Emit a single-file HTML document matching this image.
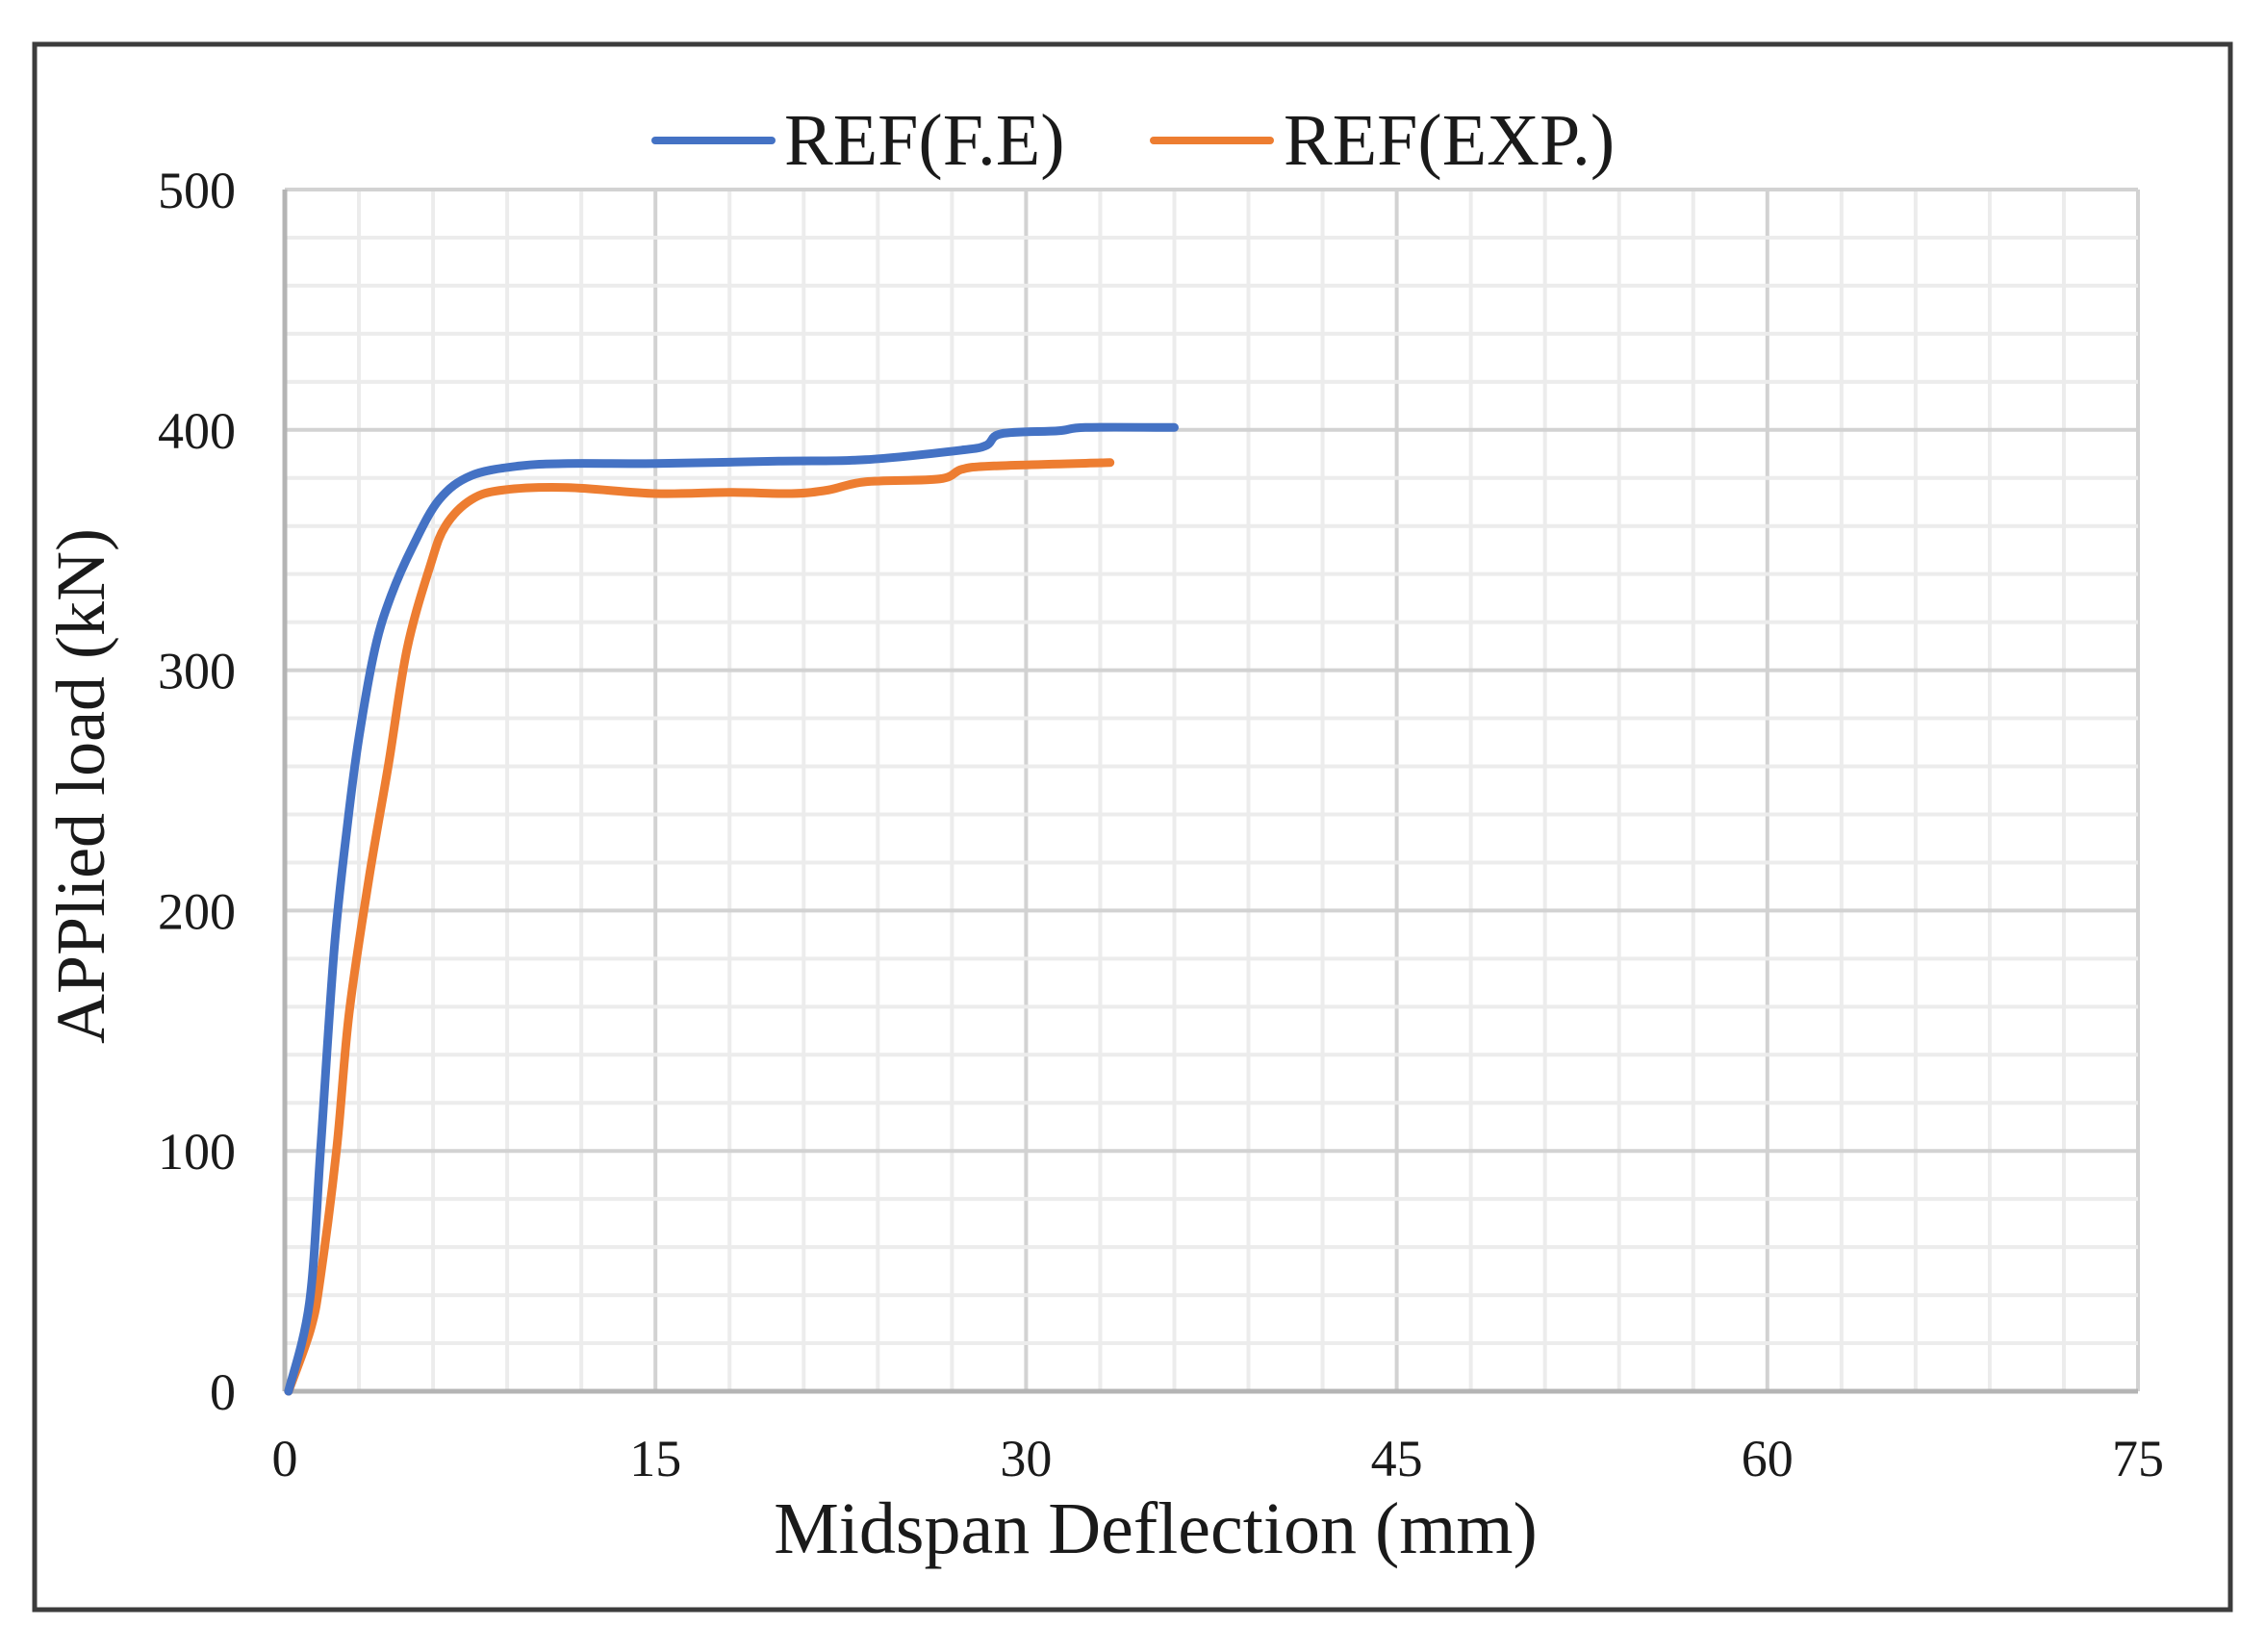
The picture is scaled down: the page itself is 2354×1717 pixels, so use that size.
<!DOCTYPE html>
<html><head><meta charset="utf-8"><style>
html,body{margin:0;padding:0;background:#fff;}
svg{display:block;font-family:"Liberation Serif",serif;}
</style></head><body>
<svg id="chart" width="2354" height="1717" viewBox="0 0 2354 1717" xmlns="http://www.w3.org/2000/svg">
<rect x="36" y="46" width="2282" height="1627" fill="#fff" stroke="#3c3c3c" stroke-width="5"/>
<g id="grid"></g>
<g id="axes"></g>
<g id="series"></g>
<g>
<line x1="681" y1="146" x2="802" y2="146" stroke="#4472C4" stroke-width="8" stroke-linecap="round"/>
<text x="815" y="171" font-size="76" fill="#1a1a1a">REF(F.E)</text>
<line x1="1199" y1="146" x2="1320" y2="146" stroke="#ED7D31" stroke-width="8" stroke-linecap="round"/>
<text x="1334" y="171" font-size="76" fill="#1a1a1a">REF(EXP.)</text>
</g>
<text x="1201" y="1614" font-size="76" text-anchor="middle" fill="#1a1a1a">Midspan Deflection (mm)</text>
<text transform="translate(108,817) rotate(-90)" font-size="72" text-anchor="middle" fill="#1a1a1a">APPlied load (kN)</text>
</svg>
<script>
const xTicks = [0, 15, 30, 45, 60, 75];
const yTicks = [0, 100, 200, 300, 400, 500];
const feX = [0.15, 1.0, 1.45, 2.0, 2.55, 3.0, 3.65, 4.3, 5.2, 6.25, 7.55, 9.5, 11.45, 15, 20, 23.5, 27.4, 28.4, 29.0, 31.3, 32.4, 36.0];
const feY = [0, 37, 101, 184, 237, 272, 309, 331, 352, 371, 381, 385, 386, 386, 387, 387.6, 391.6, 393.6, 398.4, 399.6, 401, 401];
const expX = [0.15, 1.05, 1.45, 2.1, 2.6, 3.4, 4.2, 4.95, 5.9, 6.5, 7.55, 8.85, 11.45, 15, 18, 20.5, 22, 23.5, 26.5, 27.4, 28.7, 33.4];
const expY = [0, 26, 48, 101, 157, 213, 261, 309, 344, 360, 371, 375, 376, 373.5, 374, 373.5, 375, 378.4, 379.6, 383.6, 385, 386.4];

const NS = "http://www.w3.org/2000/svg";
const L = 296, R = 2222, T = 197, B = 1446;
const xMax = 75, yMax = 500;
function sx(v){ return L + v / xMax * (R - L); }
function sy(v){ return B - v / yMax * (B - T); }
function mk(tag, attrs, parent){
  const e = document.createElementNS(NS, tag);
  for (const k in attrs) e.setAttribute(k, attrs[k]);
  parent.appendChild(e); return e;
}
const grid = document.getElementById('grid');
for (let v = 0; v <= xMax + 0.001; v += 3) {
  const major = Math.abs(v % 15) < 0.001;
  const ln = mk('line', {x1: sx(v), x2: sx(v), y1: T, y2: B, stroke: major ? '#d2d2d2' : '#ececec', 'stroke-width': 4}, grid);
  
  
}
for (let v = 0; v <= yMax + 0.001; v += 20) {
  const major = v % 100 === 0;
  const ln = mk('line', {x1: L, x2: R, y1: sy(v), y2: sy(v), stroke: major ? '#d2d2d2' : '#ececec', 'stroke-width': 4}, grid);
  
  
}
const axes = document.getElementById('axes');
const xa = mk('line', {x1: L, x2: R, y1: B, y2: B, stroke: '#b4b4b4', 'stroke-width': 5}, axes);


const ya = mk('line', {x1: L, x2: L, y1: T, y2: B, stroke: '#b4b4b4', 'stroke-width': 5}, axes);


xTicks.forEach(function(v){
  const t = mk('text', {x: sx(v), y: 1534, 'font-size': 54, 'text-anchor': 'middle', fill: '#1a1a1a'}, axes);
  t.textContent = v;
  
  
});
yTicks.forEach(function(v){
  const t = mk('text', {x: 245, y: sy(v) + 19, 'font-size': 54, 'text-anchor': 'end', fill: '#1a1a1a'}, axes);
  t.textContent = v;
  
  
});
const series = document.getElementById('series');
function drawLine(xs, ys, color, name){
  const pts = xs.map(function(x, i){ return [sx(x), sy(ys[i])]; });
  let d = 'M' + pts[0][0] + ',' + pts[0][1];
  for (let i = 1; i < pts.length; i++) {
    const p0 = pts[Math.max(0, i - 2)], p1 = pts[i - 1], p2 = pts[i], p3 = pts[Math.min(pts.length - 1, i + 1)];
    const c1x = p1[0] + (p2[0] - p0[0]) / 6, c1y = p1[1] + (p2[1] - p0[1]) / 6;
    const c2x = p2[0] - (p3[0] - p1[0]) / 6, c2y = p2[1] - (p3[1] - p1[1]) / 6;
    d += ' C' + c1x + ',' + c1y + ' ' + c2x + ',' + c2y + ' ' + p2[0] + ',' + p2[1];
  }
  const p = mk('path', {d: d, fill: 'none', stroke: color, 'stroke-width': 9, 'stroke-linecap': 'round', 'stroke-linejoin': 'round'}, series);
  
  
}
drawLine(expX, expY, '#ED7D31', 'series-ref-exp');
drawLine(feX, feY, '#4472C4', 'series-ref-fe');
</script>
</body></html>
